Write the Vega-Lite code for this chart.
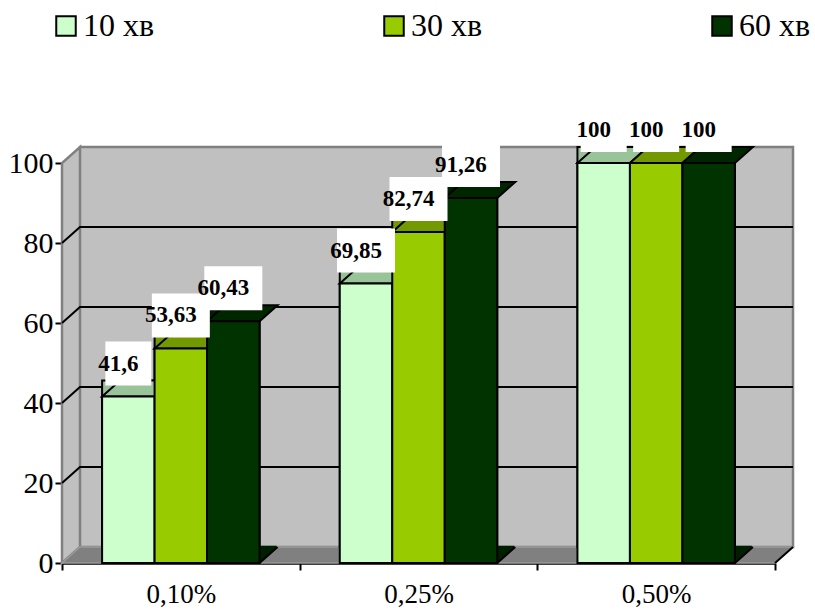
{
  "$schema": "https://vega.github.io/schema/vega-lite/v6.json",
  "width": 713,
  "height": 400,
  "autosize": {"type": "none"},
  "padding": {"left": 62, "top": 163, "right": 40, "bottom": 48},
  "background": "white",
  "config": {
    "view": {"stroke": null},
    "locale": {"number": {"decimal": ",", "thousands": " ", "grouping": [3], "currency": ["", ""]}},
    "axisX": {"labelAngle": 0, "domainColor": "black", "domainWidth": 2.5, "tickBand": "extent",
      "tickColor": "black", "tickWidth": 2, "tickSize": 7, "labelFont": "Liberation Serif", "labelFontSize": 27,
      "labelColor": "black", "labelPadding": 11, "zindex": 1, "grid": false},
    "axisY": {"grid": false, "domainColor": "black", "domainWidth": 2.5,
      "tickColor": "black", "tickWidth": 2, "tickSize": 7, "labelFont": "Liberation Serif", "labelFontSize": 30,
      "labelColor": "black", "labelPadding": 2, "zindex": 1}
  },
  "data": {
    "values": [
      {"conc": "0,10%", "series": "10 хв", "value": 41.6},
      {"conc": "0,10%", "series": "30 хв", "value": 53.63},
      {"conc": "0,10%", "series": "60 хв", "value": 60.43},
      {"conc": "0,25%", "series": "10 хв", "value": 69.85},
      {"conc": "0,25%", "series": "30 хв", "value": 82.74},
      {"conc": "0,25%", "series": "60 хв", "value": 91.26},
      {"conc": "0,50%", "series": "10 хв", "value": 100},
      {"conc": "0,50%", "series": "30 хв", "value": 100},
      {"conc": "0,50%", "series": "60 хв", "value": 100}
    ]
  },
  "resolve": {"scale": {"fill": "independent"}},
  "layer": [
    {
      "data": {"values": [{}]},
      "mark": {"type": "point", "filled": true, "opacity": 1, "size": 4, "fill": "#c0c0c0", "stroke": "#808080", "strokeWidth": 2.5,
        "shape": "M 0 0 L 0 -400 L 18 -416 L 18 -16 Z M 18 -16 L 18 -416 L 731 -416 L 731 -16 Z"},
      "encoding": {
        "x": {"datum": "0,10%", "type": "nominal", "bandPosition": 0, "title": null},
        "y": {"datum": 0, "type": "quantitative", "title": null}
      }
    },
    {
      "data": {"values": [{}]},
      "mark": {"type": "point", "filled": true, "opacity": 1, "size": 4, "fill": "#808080", "stroke": "#9a9a9a", "strokeWidth": 1.5,
        "shape": "M 0 0 L 18 -16 L 731 -16 L 713 0 Z"},
      "encoding": {
        "x": {"datum": "0,10%", "type": "nominal", "bandPosition": 0, "title": null},
        "y": {"datum": 0, "type": "quantitative", "title": null}
      }
    },
    {
      "data": {"values": [{}]},
      "mark": {"type": "point", "filled": false, "opacity": 1, "size": 4, "stroke": "black", "strokeWidth": 2,
        "shape": "M 713 0 L 731 -16"},
      "encoding": {
        "x": {"datum": "0,10%", "type": "nominal", "bandPosition": 0, "title": null},
        "y": {"datum": 0, "type": "quantitative", "title": null}
      }
    },
    {
      "data": {"values": [{"g": 20}, {"g": 40}, {"g": 60}, {"g": 80}]},
      "mark": {"type": "point", "filled": false, "opacity": 1, "size": 4, "stroke": "black", "strokeWidth": 2,
        "shape": "M 0 0 L 18 -16 L 731 -16"},
      "encoding": {
        "x": {"datum": "0,10%", "type": "nominal", "bandPosition": 0, "title": null},
        "y": {"field": "g", "type": "quantitative", "title": null}
      }
    },
    {
      "mark": {"type": "bar", "xOffset": 18, "yOffset": -16, "y2Offset": -16, "stroke": "black", "strokeWidth": 2},
      "encoding": {
        "x": {"field": "conc", "type": "nominal", "title": null},
        "xOffset": {"field": "series", "type": "nominal"},
        "y": {"field": "value", "type": "quantitative", "title": null},
        "fill": {"field": "series", "type": "nominal", "legend": null,
          "scale": {"domain": ["10 хв", "30 хв", "60 хв"], "range": ["#99bf99", "#739900", "#001f00"]}}
      }
    },
    {
      "mark": {"type": "point", "filled": true, "opacity": 1, "size": 4, "strokeWidth": 0,
        "shape": "M 26.25 0 L 26.25 -17.3 L 43.2 -17.3 L 43.2 -15.1 Z"},
      "encoding": {
        "x": {"field": "conc", "type": "nominal", "title": null},
        "xOffset": {"field": "series", "type": "nominal"},
        "y": {"datum": 0, "type": "quantitative", "title": null},
        "fill": {"field": "series", "type": "nominal", "legend": null,
          "scale": {"domain": ["10 хв", "30 хв", "60 хв"], "range": ["#99bf99", "#739900", "#001f00"]}}
      }
    },
    {
      "mark": {"type": "point", "filled": false, "opacity": 1, "size": 4, "stroke": "black", "strokeWidth": 2,
        "shape": "M 26.25 0 L 44.25 -16"},
      "encoding": {
        "x": {"field": "conc", "type": "nominal", "title": null},
        "xOffset": {"field": "series", "type": "nominal"},
        "y": {"datum": 0, "type": "quantitative", "title": null}
      }
    },
    {
      "mark": {"type": "point", "filled": true, "opacity": 1, "size": 4, "stroke": "black", "strokeWidth": 2,
        "shape": "M -26.25 0 L 26.25 0 L 44.25 -16 L -8.25 -16 Z"},
      "encoding": {
        "x": {"field": "conc", "type": "nominal", "title": null},
        "xOffset": {"field": "series", "type": "nominal"},
        "y": {"field": "value", "type": "quantitative", "title": null},
        "fill": {"field": "series", "type": "nominal", "legend": null,
          "scale": {"domain": ["10 хв", "30 хв", "60 хв"], "range": ["#99c499", "#739900", "#002600"]}}
      }
    },
    {
      "mark": {"type": "bar", "stroke": "black", "strokeWidth": 2},
      "encoding": {
        "x": {"field": "conc", "type": "nominal", "title": null,
          "scale": {"domain": ["0,10%", "0,25%", "0,50%"], "paddingInner": 0, "paddingOuter": 0},
          "axis": {"title": null}},
        "xOffset": {"field": "series", "type": "nominal",
          "scale": {"domain": ["10 хв", "30 хв", "60 хв"], "paddingInner": 0, "paddingOuter": 0.764}},
        "y": {"field": "value", "type": "quantitative", "title": null,
          "scale": {"domain": [0, 100], "nice": false},
          "axis": {"title": null, "values": [0, 20, 40, 60, 80, 100]}},
        "fill": {"field": "series", "type": "nominal",
          "scale": {"domain": ["10 хв", "30 хв", "60 хв"], "range": ["#ccffcc", "#99cc00", "#003300"]},
          "legend": {"title": null, "orient": "none", "legendX": -12, "legendY": -153, "direction": "horizontal", "columns": 3,
            "columnPadding": 223, "symbolType": "square", "symbolSize": 380, "symbolStrokeColor": "black", "symbolStrokeWidth": 2,
            "labelFont": "Liberation Serif", "labelFontSize": 32, "labelColor": "black", "labelOffset": 1, "padding": 0}}
      }
    },
    {
      "mark": {"type": "point", "filled": true, "opacity": 1, "size": 4, "strokeWidth": 0, "fill": "white", "xOffset": -10, "yOffset": -33},
      "encoding": {
        "x": {"field": "conc", "type": "nominal", "title": null},
        "xOffset": {"field": "series", "type": "nominal"},
        "y": {"field": "value", "type": "quantitative", "title": null},
        "shape": {"condition": {"test": "datum.value == 100 || datum.value == 41.6", "value": "M -23 -22 L 23 -22 L 23 22 L -23 22 Z"},
          "value": "M -29 -22 L 29 -22 L 29 22 L -29 22 Z"}
      }
    },
    {
      "mark": {"type": "text", "font": "Liberation Serif", "fontWeight": "bold", "fontSize": 23, "color": "black",
        "align": "center", "baseline": "middle", "dx": -10, "dy": -33},
      "encoding": {
        "x": {"field": "conc", "type": "nominal", "title": null},
        "xOffset": {"field": "series", "type": "nominal"},
        "y": {"field": "value", "type": "quantitative", "title": null},
        "text": {"field": "value", "type": "quantitative", "format": ".4~r"}
      }
    }
  ]
}
